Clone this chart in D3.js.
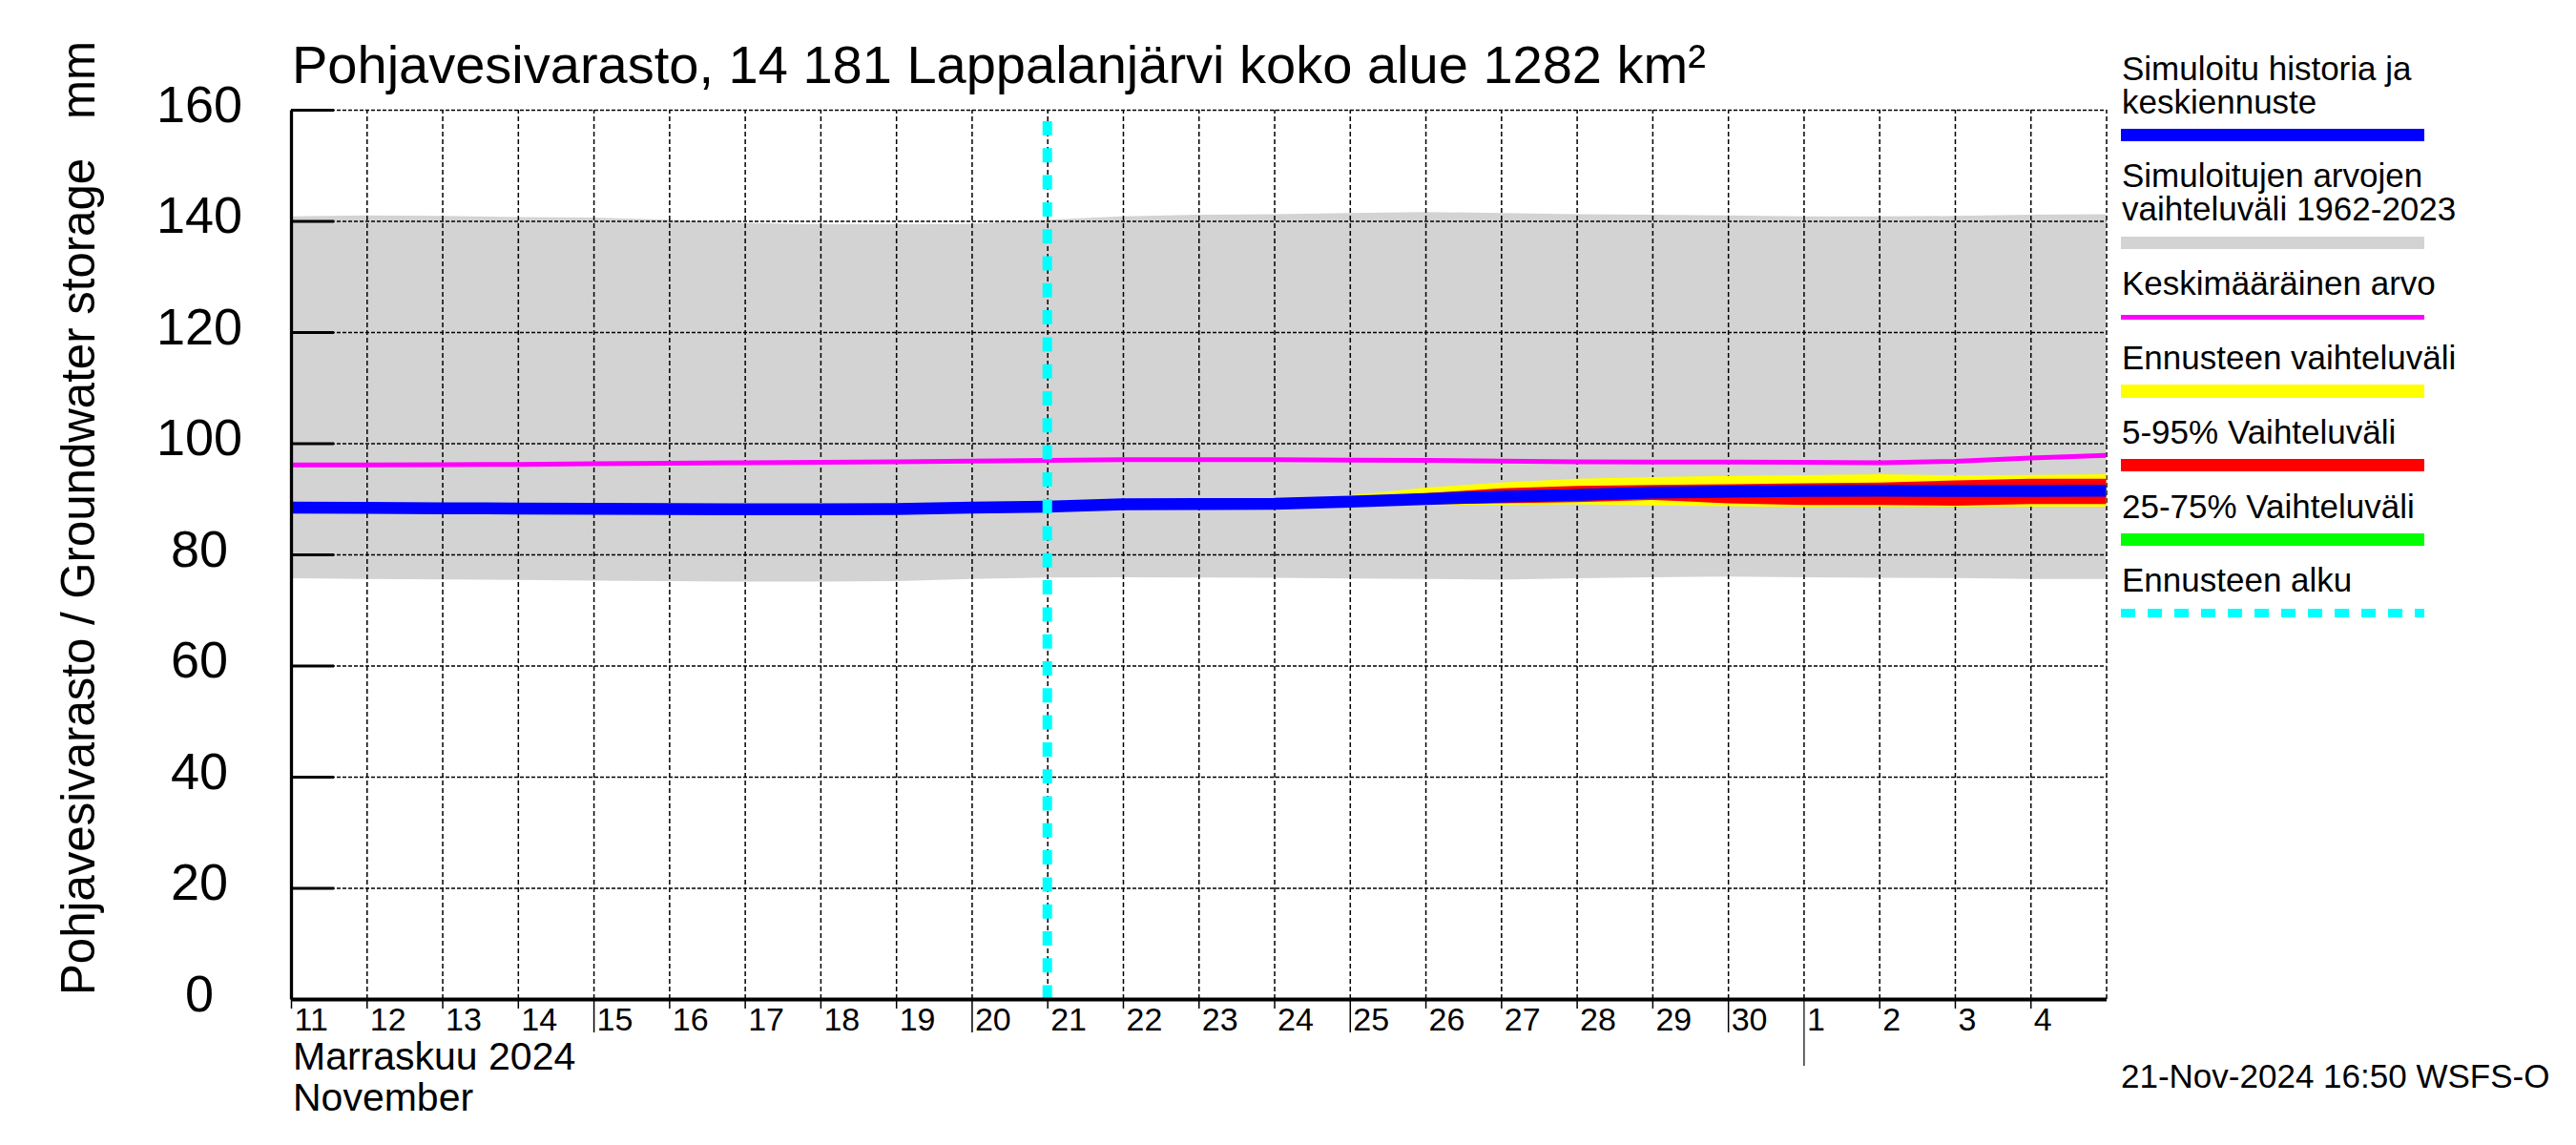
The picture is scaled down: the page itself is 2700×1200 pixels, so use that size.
<!DOCTYPE html>
<html>
<head>
<meta charset="utf-8">
<script src="https://cdn.jsdelivr.net/npm/d3@7"></script>
<style>
  html, body { margin: 0; padding: 0; background: #fff; }
  svg { display: block; font-family: "Liberation Sans", Arial, Helvetica, sans-serif; }
</style>
</head>
<body>
<svg id="chart" width="2700" height="1200"></svg>
<script>
// one value per day, 00:00 UTC
var days = [
  "2024-11-11", "2024-11-12", "2024-11-13", "2024-11-14", "2024-11-15",
  "2024-11-16", "2024-11-17", "2024-11-18", "2024-11-19", "2024-11-20",
  "2024-11-21", "2024-11-22", "2024-11-23", "2024-11-24", "2024-11-25",
  "2024-11-26", "2024-11-27", "2024-11-28", "2024-11-29", "2024-11-30",
  "2024-12-01", "2024-12-02", "2024-12-03", "2024-12-04", "2024-12-05"
];

// simulated range 1962-2023 (grey band)
var rangeHigh = [140.8, 141.0, 140.9, 140.7, 140.6, 140.2, 139.6, 139.4, 139.4, 139.5,
                 140.2, 140.8, 141.1, 141.2, 141.4, 141.6, 141.4, 141.2, 141.1, 141.0,
                 140.8, 140.8, 140.9, 141.1, 141.2];
var rangeLow  = [75.7, 75.6, 75.5, 75.4, 75.3, 75.2, 75.1, 75.1, 75.2, 75.6,
                 75.85, 75.9, 75.85, 75.8, 75.65, 75.6, 75.45, 75.7, 75.9, 76.0,
                 75.9, 75.8, 75.75, 75.6, 75.6];

// mean value (magenta)
var meanValue = [96.1, 96.1, 96.15, 96.2, 96.3, 96.4, 96.5, 96.55, 96.65, 96.8,
                 96.9, 97.05, 97.05, 97.05, 96.95, 96.9, 96.8, 96.65, 96.6, 96.6,
                 96.55, 96.5, 96.75, 97.35, 97.8];

// simulated history + median forecast (blue)
var simulated = [88.4, 88.35, 88.3, 88.25, 88.2, 88.15, 88.1, 88.1, 88.15, 88.4,
                 88.6, 89.0, 89.05, 89.1, 89.5, 89.95, 90.4, 90.7, 91.1, 91.3,
                 91.4, 91.45, 91.4, 91.4, 91.45];

// forecast bands, from 2024-11-21 to 2024-12-05
var forecastDays = days.slice(10);
var fcMax = [88.6, 89.2, 89.5, 89.8, 90.6, 92.0, 92.9, 93.6, 93.9, 94.1, 94.25, 94.4, 94.2, 94.3, 94.4];
var fcMin = [88.6, 88.4, 88.3, 88.4, 88.6, 88.9, 88.9, 89.0, 88.8, 88.65, 88.5, 88.6, 88.6, 88.6, 88.6];
var fc95  = [88.6, 89.1, 89.3, 89.5, 90.2, 91.0, 91.9, 92.3, 92.5, 92.6, 92.8, 92.9, 93.3, 93.6, 93.6];
var fc05  = [88.6, 88.5, 88.5, 88.6, 88.8, 89.0, 89.2, 89.4, 89.8, 89.2, 88.9, 88.9, 88.75, 89.05, 89.05];
var fc75  = [88.6, 89.2, 89.3, 89.4, 89.8, 90.3, 90.8, 91.1, 91.5, 91.7, 91.8, 91.9, 91.9, 91.9, 92.0];
var fc25  = [88.6, 88.8, 88.8, 88.8, 89.2, 89.6, 90.0, 90.3, 90.7, 90.9, 91.0, 91.0, 90.9, 90.9, 90.9];

var forecastStart = "2024-11-21";
var yTicks = [0, 20, 40, 60, 80, 100, 120, 140, 160];

var titleText = "Pohjavesivarasto, 14 181 Lappalanjärvi koko alue 1282 km²";
var yTitle = "Pohjavesivarasto / Groundwater storage\u00a0\u00a0\u00a0mm";
var monthLabels = ["Marraskuu 2024", "November"];
var stamp = "21-Nov-2024 16:50 WSFS-O";

var legendItems = [
  { lines: ["Simuloitu historia ja", "keskiennuste"], color: "#0000ff" },
  { lines: ["Simuloitujen arvojen", "vaihteluväli 1962-2023"], color: "#d3d3d3" },
  { lines: ["Keskimääräinen arvo"], color: "#ff00ff" },
  { lines: ["Ennusteen vaihteluväli"], color: "#ffff00" },
  { lines: ["5-95% Vaihteluväli"], color: "#ff0000" },
  { lines: ["25-75% Vaihteluväli"], color: "#00ff00" },
  { lines: ["Ennusteen alku"], color: "#00ffff" }
];

(function () {
  var parse = d3.utcParse("%Y-%m-%d");
  var svg = d3.select("#chart");
  var left = 305, right = 2207.5, top = 115, bottom = 1047;

  var x = d3.scaleUtc().domain([parse(days[0]), parse(days[days.length - 1])]).range([left, right]);
  var y = d3.scaleLinear().domain([0, 160]).range([bottom, top]);

  var all = days.map(function (d, i) {
    return { date: parse(d), hi: rangeHigh[i], lo: rangeLow[i], mean: meanValue[i], sim: simulated[i] };
  });
  var fc = forecastDays.map(function (d, i) {
    return { date: parse(d), max: fcMax[i], min: fcMin[i], p95: fc95[i], p05: fc05[i], p75: fc75[i], p25: fc25[i] };
  });

  function band(lo, hi) {
    return d3.area().x(function (d) { return x(d.date); })
      .y0(function (d) { return y(d[lo]); })
      .y1(function (d) { return y(d[hi]); });
  }
  function line(key) {
    return d3.line().x(function (d) { return x(d.date); }).y(function (d) { return y(d[key]); });
  }

  // grey historical range
  svg.append("path").datum(all).attr("d", band("lo", "hi")).attr("fill", "#d3d3d3");

  // grid
  var gridDays = days.slice(1).map(parse);
  svg.append("g").attr("transform", "translate(0," + bottom + ")")
    .call(d3.axisBottom(x).tickValues(gridDays).tickSize(-(bottom - top)).tickFormat(""))
    .call(function (g) {
      g.select(".domain").remove();
      g.selectAll("line").attr("stroke", "#000").attr("stroke-width", 1.5).attr("stroke-dasharray", "5,3");
    });
  svg.append("g").attr("transform", "translate(" + left + ",0)")
    .call(d3.axisLeft(y).tickValues(yTicks.slice(1)).tickSize(-(right - left)).tickFormat(""))
    .call(function (g) {
      g.select(".domain").remove();
      g.selectAll("line").attr("stroke", "#000").attr("stroke-width", 1.5).attr("stroke-dasharray", "4,2");
    });

  // mean
  svg.append("path").datum(all).attr("d", line("mean"))
    .attr("fill", "none").attr("stroke", "#ff00ff").attr("stroke-width", 5);

  // forecast bands
  svg.append("path").datum(fc).attr("d", band("min", "max")).attr("fill", "#ffff00");
  svg.append("path").datum(fc).attr("d", band("p05", "p95")).attr("fill", "#ff0000");
  svg.append("path").datum(fc).attr("d", band("p25", "p75")).attr("fill", "#00ff00");

  // simulated + median
  svg.append("path").datum(all).attr("d", line("sim"))
    .attr("fill", "none").attr("stroke", "#0000ff").attr("stroke-width", 12.5);

  // forecast start
  var fx = x(parse(forecastStart));
  svg.append("line").attr("x1", fx).attr("x2", fx).attr("y1", 127).attr("y2", bottom)
    .attr("stroke", "#00ffff").attr("stroke-width", 10).attr("stroke-dasharray", "15,13.3");

  // x axis
  var tickDays = days.slice(0, days.length - 1).map(parse);
  svg.append("g").attr("transform", "translate(0," + bottom + ")")
    .call(d3.axisBottom(x).tickValues(tickDays).tickSize(10).tickSizeOuter(0)
      .tickFormat(function (d) { return d.getUTCDate(); }))
    .call(function (g) {
      g.select(".domain").attr("stroke", "#000").attr("stroke-width", 4);
      g.selectAll(".tick line").attr("stroke", "#000").attr("stroke-width", 1.5)
        .attr("y2", function (d) {
          if (d.getUTCDate() === 1) return 70;
          return d.getUTCDate() % 5 === 0 ? 35 : 10;
        })
        .attr("stroke-width", function (d) { return d.getUTCDate() === 1 ? 1.2 : 1.5; });
      g.selectAll(".tick text").attr("fill", "#000").attr("font-size", 34)
        .attr("font-family", null).attr("text-anchor", "start")
        .attr("x", 3).attr("y", 33).attr("dy", null);
    });

  // y axis
  svg.append("g").attr("transform", "translate(" + left + ",0)")
    .call(d3.axisLeft(y).tickValues(yTicks).tickSize(-45).tickSizeOuter(0).tickFormat(d3.format("d")))
    .call(function (g) {
      g.select(".domain").attr("stroke", "#000").attr("stroke-width", 3.3);
      g.selectAll(".tick line").attr("stroke", "#000").attr("stroke-width", 3);
      g.selectAll(".tick text").attr("fill", "#000").attr("font-size", 54)
        .attr("font-family", null).attr("text-anchor", "middle")
        .attr("x", -96).attr("y", 12).attr("dy", null);
    });

  // titles
  svg.append("text").attr("x", 306).attr("y", 87).attr("font-size", 56).text(titleText);
  svg.append("text").attr("transform", "translate(99,543) rotate(-90)")
    .attr("text-anchor", "middle").attr("font-size", 50)
    .attr("textLength", 1000).attr("lengthAdjust", "spacingAndGlyphs").text(yTitle);
  svg.selectAll(".month").data(monthLabels).join("text").attr("class", "month")
    .attr("x", 307).attr("y", function (d, i) { return 1121 + i * 43; })
    .attr("font-size", 41).text(function (d) { return d; });
  svg.append("text").attr("x", 2223).attr("y", 1140).attr("font-size", 35).text(stamp);

  // legend
  var lx = 2223, lw = 318;
  var firstBase = [84, 196, 309, 387, 465, 543, 620];
  var barTop = [135, 248, 330, 403, 481, 559, 638];
  var barH = [13, 13, 5, 14, 13, 13, 9];
  var lg = svg.append("g");
  legendItems.forEach(function (item, i) {
    item.lines.forEach(function (t, j) {
      lg.append("text").attr("x", lx + 1).attr("y", firstBase[i] + j * 35)
        .attr("font-size", 35).text(t);
    });
    if (i === legendItems.length - 1) {
      lg.append("line").attr("x1", lx).attr("x2", lx + lw)
        .attr("y1", barTop[i] + barH[i] / 2).attr("y2", barTop[i] + barH[i] / 2)
        .attr("stroke", item.color).attr("stroke-width", barH[i]).attr("stroke-dasharray", "15,13");
    } else {
      lg.append("rect").attr("x", lx).attr("y", barTop[i]).attr("width", lw).attr("height", barH[i])
        .attr("fill", item.color);
    }
  });
})();
</script>
</body>
</html>
